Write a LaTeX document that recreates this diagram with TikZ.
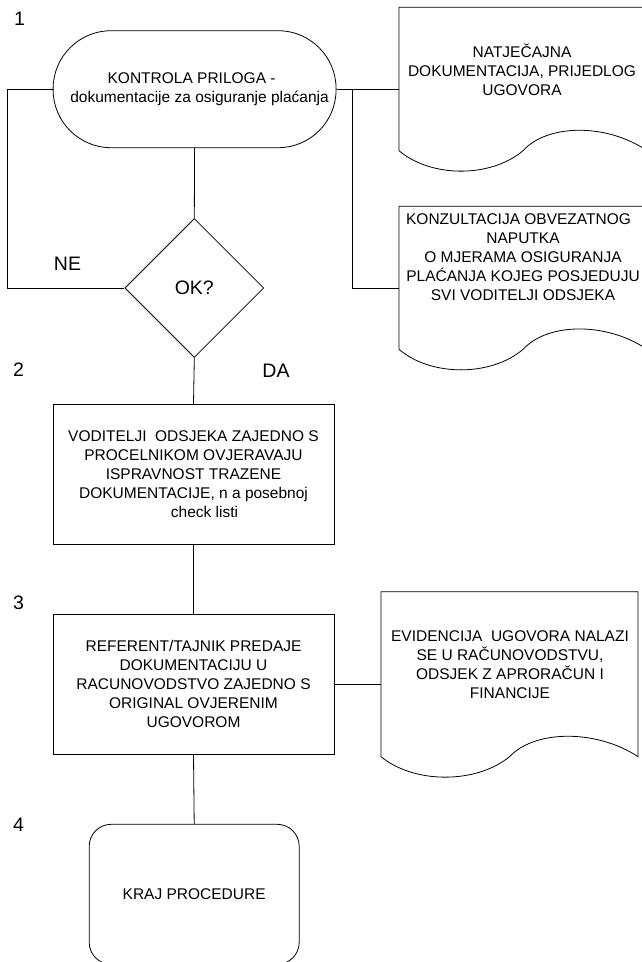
\documentclass[tikz,border=0pt]{standalone}
\usepackage{fontspec}
\setmainfont{Liberation Sans}
\usetikzlibrary{shapes.geometric}
\tikzset{
  line/.style={draw=black, line width=0.8pt},
  txt/.style={font=\fontsize{15.5}{19}\selectfont, align=center, inner sep=0pt},
  lbl/.style={font=\fontsize{19.5}{22}\selectfont, inner sep=0pt},
  procbox/.style={line, rectangle, minimum width=281pt, minimum height=140pt, txt},
}
\newcommand\docshape[5]{%
  \draw[line] (#1,#3) -- (#1,#2) -- ({#1+#4},#2) -- ({#1+#4},#3)
    .. controls ({#1+0.84*#4},{#3-1.33*#5}) and ({#1+0.6*#4},{#3-1.33*#5}) .. ({#1+0.5*#4},#3)
    .. controls ({#1+0.37*#4},{#3+1.33*#5}) and ({#1+0.13*#4},{#3+1.33*#5}) .. cycle;}
\begin{document}
\begin{tikzpicture}[x=1pt,y=-1pt]
\useasboundingbox (0,0) rectangle (641,962);
\fill[white] (0,0) rectangle (641,962);

% documents
\docshape{399}{7.3}{150.7}{248}{20.5}
\docshape{399}{206.3}{349.4}{248}{20.5}
\docshape{381}{591.7}{756.7}{257}{20.5}
\coordinate (d1w) at (399,89.2);
\coordinate (d2w) at (399,288);
\coordinate (d3w) at (381,684.2);
\node[txt] (d1t) at (522,70) {NATJEČAJNA\\DOKUMENTACIJA, PRIJEDLOG\\UGOVORA};
\node[txt] (d2t) at (523,257) {KONZULTACIJA OBVEZATNOG\hspace*{9pt}\\NAPUTKA\hspace*{38pt}\\O MJERAMA OSIGURANJA\hspace*{19pt}\\PLAĆANJA KOJEG POSJEDUJU\\SVI VODITELJI ODSJEKA};
\node[txt] (d3t) at (510,664.5) {EVIDENCIJA\ \ UGOVORA NALAZI\\SE U RAČUNOVODSTVU,\\ODSJEK Z APRORAČUN I\\FINANCIJE};

% flow nodes
\node[line, rectangle, rounded corners=58pt, minimum width=283pt, minimum height=117pt, txt] (start) at (194.6,89.2) {KONTROLA PRILOGA -\hspace*{6pt}\\\hspace*{10pt}dokumentacije za osiguranje plaćanja};
\node[line, diamond, aspect=1, minimum width=139pt, minimum height=139pt, inner sep=0pt, lbl] (ok) at (194.3,288) {OK?};
\node[procbox] (b2) at (193.5,474.3) {VODITELJI\ \ ODSJEKA ZAJEDNO S\\PROCELNIKOM OVJERAVAJU\\ISPRAVNOST TRAZENE\\DOKUMENTACIJE, n a posebnoj\\\hspace*{22pt}check listi};
\node[procbox] (b3) at (193.5,684.2) {REFERENT/TAJNIK PREDAJE\\DOKUMENTACIJU U\\RACUNOVODSTVO ZAJEDNO S\\ORIGINAL OVJERENIM\\UGOVOROM};
\node[line, rectangle, rounded corners=22pt, minimum width=210pt, minimum height=140pt, txt] (end) at (194.2,894.3) {KRAJ PROCEDURE};

% labels
\node[lbl] (n1) at (19.5,19) {1};
\node[lbl] (n2) at (18.5,370) {2};
\node[lbl] (n3) at (18.5,602.7) {3};
\node[lbl] (n4) at (18.5,824.3) {4};
\node[lbl] (ne) at (67.5,263.3) {NE};
\node[lbl] (da) at (276,370.7) {DA};

% connectors
\coordinate (lx) at (7.3,0);
\coordinate (rx) at (352.4,0);
\draw[line] (start.west) -| (lx |- ok.west) -- (ok.west);
\draw[line] (start.east) -- (d1w);
\draw[line] (rx |- start.east) |- (d2w);
\draw[line] (start.south) -- (ok.north);
\draw[line] (ok.south) -- (b2.north);
\draw[line] (b2.south) -- (b3.north);
\draw[line] (b3.east) -- (d3w);
\draw[line] (b3.south) -- (end.north);
\end{tikzpicture}
\end{document}
